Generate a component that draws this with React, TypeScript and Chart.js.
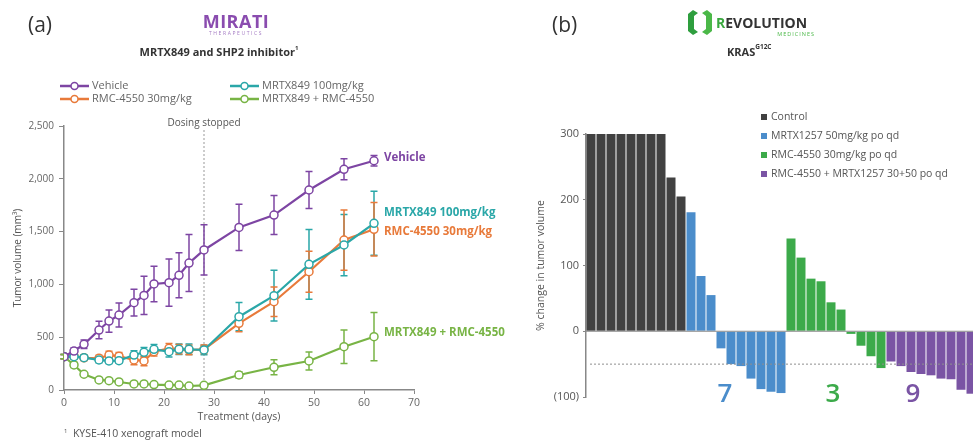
import React, { useEffect, useRef } from 'react';
import { Chart, registerables } from 'chart.js';

Chart.register(...registerables);

const FONT = '"Open Sans", "DejaVu Sans", sans-serif';
Chart.defaults.font.family = FONT;

// ---------------- Panel (a): tumor volume over time ----------------
const days = [0, 2, 4, 7, 9, 11, 14, 16, 18, 21, 23, 25, 28, 35, 42, 49, 56, 62];

const vehicleMean = [316, 369, 433, 568, 653, 710, 827, 896, 1004, 1016, 1086, 1202, 1326, 1540, 1657, 1894, 2090, 2171];
const vehicleErr = [20, 30, 40, 82, 105, 113, 126, 180, 169, 224, 213, 270, 238, 220, 185, 175, 100, 50];

const mrtx849Mean = [316, 316, 306, 284, 275, 278, 331, 357, 385, 363, 385, 385, 379, 694, 893, 1190, 1373, 1578];
const mrtx849Err = [20, 25, 25, 25, 25, 25, 40, 45, 45, 50, 50, 50, 45, 134, 240, 330, 290, 303];

const rmc4550Mean = [316, 320, 305, 300, 331, 320, 284, 275, 363, 395, 385, 379, 385, 631, 836, 1120, 1420, 1522];
const rmc4550Err = [20, 25, 25, 30, 35, 35, 45, 45, 40, 45, 45, 45, 40, 80, 140, 195, 285, 253];

const comboMean = [316, 237, 149, 95, 88, 76, 57, 57, 51, 47, 47, 38, 44, 142, 215, 275, 410, 505];
const comboErr = [20, 25, 15, 10, 10, 10, 10, 10, 10, 10, 10, 10, 10, 30, 71, 85, 158, 229];

const seriesNamesA = ['Vehicle', 'MRTX849 100mg/kg', 'RMC-4550 30mg/kg', 'MRTX849 + RMC-4550'];
const endLabelValues = [2197, 1676, 1496, 540];
const dosingStopDay = 28;
const dosingLabel = 'Dosing stopped';

// ---------------- Panel (b): waterfall ----------------
const controlChange = [300, 300, 300, 300, 300, 300, 300, 300, 234, 205];
const mrtx1257Change = [181, 84, 55, -26, -50, -53, -72, -88, -92, -94];
const rmcChange = [141, 112, 80, 76, 44, 33, -4, -22, -38, -56];
const comboChange = [-46, -53, -62, -65, -67, -72, -73, -89, -95];
const groupNamesB = ['Control', 'MRTX1257 50mg/kg po qd', 'RMC-4550 30mg/kg po qd', 'RMC-4550 + MRTX1257 30+50 po qd'];
const responderCounts = ['7', '3', '9'];
const thresholdB = -50;

const COLORS_A = ['#7d45a3', '#2aa7a8', '#e87a3a', '#78b445'];
const COLORS_B = ['#414141', '#4b8dcb', '#3caa4a', '#7a54a4'];

const panelAPlugin = {
  id: 'panelA',
  beforeDatasetsDraw(chart: any) {
    const { ctx, chartArea, scales } = chart;
    const x = scales.x, y = scales.y;
    ctx.save();
    const dx = x.getPixelForValue(dosingStopDay);
    ctx.strokeStyle = '#9a9a9a';
    ctx.lineWidth = 1;
    ctx.setLineDash([2, 2]);
    ctx.beginPath();
    ctx.moveTo(dx, chartArea.top + 4);
    ctx.lineTo(dx, chartArea.bottom);
    ctx.stroke();
    ctx.setLineDash([]);
    ctx.fillStyle = '#555';
    ctx.font = `10px ${FONT}`;
    ctx.textAlign = 'center';
    ctx.textBaseline = 'middle';
    ctx.fillText(dosingLabel, dx, chartArea.top - 3);
    // error bars
    chart.data.datasets.forEach((ds: any) => {
      ctx.strokeStyle = ds.borderColor;
      ctx.lineWidth = 1.5;
      ds.data.forEach((p: any, i: number) => {
        const e = ds.errors[i];
        const px = x.getPixelForValue(p.x);
        const t = y.getPixelForValue(p.y + e);
        const b = y.getPixelForValue(p.y - e);
        ctx.beginPath();
        ctx.moveTo(px, t); ctx.lineTo(px, b);
        ctx.moveTo(px - 3.5, t); ctx.lineTo(px + 3.5, t);
        ctx.moveTo(px - 3.5, b); ctx.lineTo(px + 3.5, b);
        ctx.stroke();
      });
    });
    ctx.restore();
  },
  afterDraw(chart: any) {
    const { ctx, scales } = chart;
    const x = scales.x, y = scales.y;
    ctx.save();
    // legend (2 columns)
    chart.data.datasets.forEach((ds: any, i: number) => {
      const col = i % 2, row = Math.floor(i / 2);
      const lx = 60 + col * 170;
      const ly = 86 + row * 13;
      ctx.strokeStyle = ds.borderColor;
      ctx.lineWidth = 2.5;
      ctx.beginPath(); ctx.moveTo(lx, ly); ctx.lineTo(lx + 29, ly); ctx.stroke();
      ctx.fillStyle = '#fff';
      ctx.lineWidth = 1.5;
      ctx.beginPath(); ctx.arc(lx + 14.5, ly, 3.5, 0, Math.PI * 2); ctx.fill(); ctx.stroke();
      ctx.fillStyle = '#666';
      ctx.font = `11px ${FONT}`;
      ctx.textAlign = 'left';
      ctx.textBaseline = 'middle';
      ctx.fillText(ds.label, lx + 32, ly);
      // end label
      const last = ds.data[ds.data.length - 1];
      ctx.fillStyle = ds.borderColor;
      ctx.font = `bold 11.5px ${FONT}`;
      ctx.fillText(ds.label, x.getPixelForValue(last.x) + 10, y.getPixelForValue(ds.endLabel));
    });
    ctx.restore();
  },
};

const panelBPlugin = {
  id: 'panelB',
  afterDatasetsDraw(chart: any) {
    const { ctx, chartArea, scales } = chart;
    const x = scales.x, y = scales.y;
    ctx.save();
    // zero line
    const y0 = y.getPixelForValue(0);
    ctx.strokeStyle = '#8a8a8a';
    ctx.lineWidth = 1;
    ctx.beginPath(); ctx.moveTo(chartArea.left, y0); ctx.lineTo(chartArea.right, y0); ctx.stroke();
    // threshold line
    const yt = y.getPixelForValue(thresholdB);
    ctx.strokeStyle = '#8f8f8f';
    ctx.setLineDash([2, 2]);
    ctx.beginPath(); ctx.moveTo(chartArea.left + 4, yt); ctx.lineTo(chartArea.right, yt); ctx.stroke();
    ctx.setLineDash([]);
    // responder counts
    const anchors = [13.4, 24.2, 32.2];
    ctx.font = `600 26px ${FONT}`;
    ctx.textAlign = 'center';
    ctx.textBaseline = 'middle';
    responderCounts.forEach((t, i) => {
      ctx.fillStyle = chart.data.datasets[i + 1].backgroundColor;
      ctx.fillText(t, x.getPixelForValue(anchors[i]), y.getPixelForValue(-100) - 2);
    });
    // legend
    ctx.font = `10.5px ${FONT}`;
    ctx.textAlign = 'left';
    chart.data.datasets.forEach((ds: any, i: number) => {
      const lx = chartArea.left + 175;
      const ly = chartArea.top - 17 + i * 19;
      ctx.fillStyle = ds.backgroundColor;
      ctx.fillRect(lx, ly - 3, 6, 6);
      ctx.fillStyle = '#555';
      ctx.fillText(ds.label, lx + 10, ly);
    });
    ctx.restore();
  },
};

export default function App() {
  const refA = useRef<HTMLCanvasElement>(null);
  const refB = useRef<HTMLCanvasElement>(null);

  useEffect(() => {
    const means = [vehicleMean, mrtx849Mean, rmc4550Mean, comboMean];
    const errs = [vehicleErr, mrtx849Err, rmc4550Err, comboErr];
    const chartA = new Chart(refA.current as HTMLCanvasElement, {
      type: 'line',
      data: {
        datasets: seriesNamesA.map((name, i) => ({
          label: name,
          data: days.map((d, j) => ({ x: d, y: means[i][j] })),
          errors: errs[i],
          endLabel: endLabelValues[i],
          borderColor: COLORS_A[i],
          backgroundColor: '#ffffff',
          borderWidth: 2.2,
          pointRadius: 4,
          pointBorderWidth: 1.5,
          pointBackgroundColor: '#ffffff',
          pointBorderColor: COLORS_A[i],
          tension: 0,
        })) as any,
      },
      options: {
        responsive: false,
        animation: false,
        layout: { padding: { top: 126, right: 106, bottom: 0, left: 0 } },
        plugins: { legend: { display: false }, tooltip: { enabled: false } },
        scales: {
          x: {
            type: 'linear',
            min: 0,
            max: 70,
            afterFit: (s: any) => { s.height = 51; },
            ticks: { stepSize: 10, color: '#666', font: { size: 10.5 }, padding: 3 },
            grid: { drawOnChartArea: false, drawTicks: true, tickLength: 4, color: '#888' },
            border: { color: '#888', width: 1.5 },
            title: { display: true, text: 'Treatment (days)', color: '#555', font: { size: 10.5 }, padding: { top: 0, bottom: 18 } },
          },
          y: {
            min: 0,
            max: 2500,
            afterFit: (s: any) => { s.width = 64; },
            ticks: { stepSize: 500, color: '#666', font: { size: 10 }, padding: 5, callback: (v: any) => Number(v).toLocaleString('en-US') },
            grid: { drawOnChartArea: false, drawTicks: true, tickLength: 5, color: '#888' },
            border: { color: '#888', width: 1.5 },
            title: { display: true, text: 'Tumor volume (mm³)', color: '#555', font: { size: 10 }, padding: { top: 12, bottom: 0 } },
          },
        },
      },
      plugins: [panelAPlugin as any],
    });

    const groups = [controlChange, mrtx1257Change, rmcChange, comboChange];
    const labels: string[] = [];
    groups.forEach((g, gi) => g.forEach((_, k) => labels.push(`${groupNamesB[gi]} #${k + 1}`)));
    let offset = 0;
    const dsB = groups.map((g, gi) => {
      const data = labels.map((_, idx) => (idx >= offset && idx < offset + g.length ? g[idx - offset] : null));
      offset += g.length;
      return {
        label: groupNamesB[gi],
        data,
        backgroundColor: COLORS_B[gi],
        grouped: false,
        barPercentage: 0.9,
        categoryPercentage: 1,
      };
    });
    const chartB = new Chart(refB.current as HTMLCanvasElement, {
      type: 'bar',
      data: { labels, datasets: dsB as any },
      options: {
        responsive: false,
        animation: false,
        layout: { padding: { top: 134, right: 4, bottom: 44, left: 0 } },
        plugins: { legend: { display: false }, tooltip: { enabled: false } },
        scales: {
          x: { display: false },
          y: {
            min: -100,
            max: 300,
            afterFit: (s: any) => { s.width = 106; },
            ticks: { stepSize: 100, color: '#555', font: { size: 11 }, padding: 4, callback: (v: any) => (v < 0 ? `(${-v})` : `${v}`) },
            grid: { drawOnChartArea: false, drawTicks: true, tickLength: 3, color: '#888' },
            border: { color: '#888', width: 1.5 },
            title: { display: true, text: '% change in tumor volume', color: '#555', font: { size: 10.5 }, padding: { top: 55, bottom: 0 } },
          },
        },
      },
      plugins: [panelBPlugin as any],
    });
    return () => { chartA.destroy(); chartB.destroy(); };
  }, []);

  const abs = (s: React.CSSProperties): React.CSSProperties => ({ position: 'absolute', lineHeight: 1, whiteSpace: 'nowrap', fontFamily: FONT, ...s });

  return (
    <div style={{ position: 'fixed', left: 0, top: 0, width: 973, height: 441, overflow: 'hidden', background: '#fff' }}>
      <canvas ref={refA} width={520} height={441} style={{ position: 'absolute', left: 0, top: 0, width: 520, height: 441 }} />
      <canvas ref={refB} width={500} height={441} style={{ position: 'absolute', left: 480, top: 0, width: 500, height: 441 }} />

      <div style={abs({ left: 28, top: 14, fontSize: 21, color: '#333' })}>(a)</div>
      <div style={abs({ left: 236, top: 12, fontSize: 18, fontWeight: 700, color: '#8a4caf', letterSpacing: 0.5, transform: 'translateX(-50%)' })}>MIRATI</div>
      <div style={abs({ left: 236, top: 31, fontSize: 5, color: '#a57cc4', letterSpacing: 1.6, transform: 'translateX(-50%)' })}>THERAPEUTICS</div>
      <div style={abs({ left: 219, top: 46, fontSize: 11, fontWeight: 700, color: '#333', transform: 'translateX(-50%)' })}>
        MRTX849 and SHP2 inhibitor<sup style={{ fontSize: 6, verticalAlign: 'top', position: 'relative', top: -1 }}>1</sup>
      </div>
      <div style={abs({ left: 64, top: 428, fontSize: 10.5, color: '#555' })}>
        <sup style={{ fontSize: 6, verticalAlign: 'top' }}>1</sup>&nbsp; KYSE-410 xenograft model
      </div>

      <div style={abs({ left: 552, top: 14, fontSize: 21, color: '#333' })}>(b)</div>
      <svg style={{ position: 'absolute', left: 688, top: 10 }} width={24} height={25} viewBox="0 0 24 25">
        <polygon points="5,0 10,3 6,6 6,19 10,22 5,25 0,21 0,4" fill="#2e9e3e" />
        <polygon points="19,0 24,4 24,21 19,25 14,22 18,19 18,6 14,3" fill="#4bb848" />
      </svg>
      <div style={abs({ left: 716, top: 15.5, fontSize: 14, fontWeight: 700, color: '#333' })}>
        <span style={{ color: '#3aa83f' }}>R</span>EVOLUTION
      </div>
      <div style={abs({ left: 815, top: 31.5, fontSize: 5.5, color: '#4bb848', letterSpacing: 1, transform: 'translateX(-100%)' })}>MEDICINES</div>
      <div style={abs({ left: 727, top: 46, fontSize: 11, fontWeight: 700, color: '#333' })}>
        KRAS<sup style={{ fontSize: 6.5, verticalAlign: 'top', position: 'relative', top: -2 }}>G12C</sup>
      </div>
    </div>
  );
}
